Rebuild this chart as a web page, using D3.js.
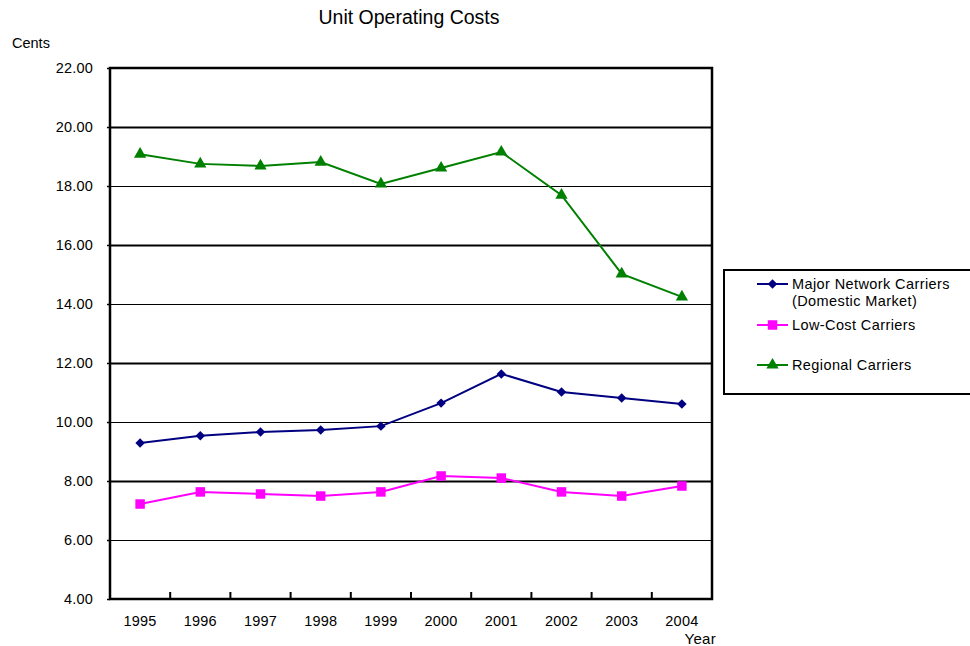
<!DOCTYPE html>
<html>
<head>
<meta charset="utf-8">
<script src="https://cdn.jsdelivr.net/npm/d3@7"></script>
<style>
  html, body { margin: 0; padding: 0; background: #fff; }
  svg { display: block; font-family: "Liberation Sans", Arial, sans-serif; }
</style>
</head>
<body>
<svg id="chart" width="970" height="646"></svg>
<script>
// Unit operating costs (cents) by carrier group, 1995-2004
const years = ["1995","1996","1997","1998","1999","2000","2001","2002","2003","2004"];
const majorNetwork = [9.29, 9.53, 9.66, 9.73, 9.86, 10.64, 11.63, 11.02, 10.81, 10.61];
const lowCost      = [7.22, 7.63, 7.56, 7.49, 7.63, 8.17, 8.10, 7.63, 7.49, 7.83];
const regional     = [19.08, 18.75, 18.68, 18.81, 18.07, 18.61, 19.15, 17.69, 15.02, 14.24];
const yTicks = [4, 6, 8, 10, 12, 14, 16, 18, 20, 22];
const seriesNames = ["Major Network Carriers", "Low-Cost Carriers", "Regional Carriers"];

const series = [
  { name: seriesNames[0], values: majorNetwork, color: "#000080", marker: "diamond" },
  { name: seriesNames[1], values: lowCost,      color: "#FF00FF", marker: "square" },
  { name: seriesNames[2], values: regional,     color: "#008000", marker: "triangle" }
];

const FONT = "'Liberation Sans', Arial, sans-serif";
const svg = d3.select("#chart");
const plot = { left: 110, top: 68, right: 712, bottom: 599 };

const x = d3.scaleBand().domain(years).range([plot.left, plot.right]).padding(0);
const y = d3.scaleLinear().domain([4, 22]).range([plot.bottom, plot.top]);

// horizontal gridlines
svg.append("g").selectAll("line")
  .data(yTicks.filter(v => v > 4 && v < 22))
  .join("line")
  .attr("x1", plot.left).attr("x2", plot.right)
  .attr("y1", d => Math.round(y(d)) + 0.5).attr("y2", d => Math.round(y(d)) + 0.5)
  .attr("stroke", "#000")
  .attr("stroke-width", d => (d % 4 === 0 ? 2 : 1.2));

// y axis labels and small outer ticks
const yAxis = d3.axisLeft(y).tickValues(yTicks).tickFormat(d3.format(".2f")).tickSize(3).tickPadding(14);
const gy = svg.append("g").attr("transform", `translate(${plot.left},0)`).call(yAxis);
gy.select(".domain").remove();
gy.selectAll("line").attr("stroke", "#000").attr("stroke-width", 1.5);
gy.selectAll("text")
  .attr("font-size", 14.5).attr("fill", "#000").attr("font-family", FONT)
  .attr("letter-spacing", 0.2);

// x axis: inward tick marks at category boundaries
const boundaries = years.slice(1).map(d => x(d));
svg.append("g").selectAll("line")
  .data(boundaries)
  .join("line")
  .attr("x1", d => d).attr("x2", d => d)
  .attr("y1", plot.bottom).attr("y2", plot.bottom - 7)
  .attr("stroke", "#000").attr("stroke-width", 2);

svg.append("g").selectAll("text")
  .data(years)
  .join("text")
  .attr("x", d => x(d) + x.bandwidth() / 2)
  .attr("y", 626)
  .attr("text-anchor", "middle")
  .attr("font-size", 14.5)
  .attr("letter-spacing", 0.2)
  .text(d => d);

// plot frame
svg.append("rect")
  .attr("x", plot.left).attr("y", plot.top)
  .attr("width", plot.right - plot.left).attr("height", plot.bottom - plot.top)
  .attr("fill", "none").attr("stroke", "#000").attr("stroke-width", 2.5);

// marker shapes (diamond = square turned 45 degrees)
const symbolFor = {
  diamond: d3.symbol().type(d3.symbolSquare).size(45),
  square: d3.symbol().type(d3.symbolSquare).size(90),
  triangle: d3.symbol().type(d3.symbolTriangle).size(65)
};
const markerRotation = { diamond: 45, square: 0, triangle: 0 };

const cx = i => x(years[i]) + x.bandwidth() / 2;
const line = d3.line().x((d, i) => cx(i)).y(d => y(d));

series.forEach(s => {
  const g = svg.append("g");
  g.append("path")
    .attr("d", line(s.values))
    .attr("fill", "none")
    .attr("stroke", s.color)
    .attr("stroke-width", 2);
  g.selectAll("path.m")
    .data(s.values)
    .join("path")
    .attr("class", "m")
    .attr("d", symbolFor[s.marker])
    .attr("transform", (d, i) => `translate(${cx(i)},${y(d)}) rotate(${markerRotation[s.marker]})`)
    .attr("fill", s.color);
});

// titles
svg.append("text").attr("x", 409).attr("y", 24).attr("text-anchor", "middle")
  .attr("font-size", 19.5).text("Unit Operating Costs");
svg.append("text").attr("x", 12).attr("y", 48).attr("font-size", 14.5).text("Cents");
svg.append("text").attr("x", 716).attr("y", 644).attr("text-anchor", "end")
  .attr("font-size", 15).attr("letter-spacing", 0.3).text("Year");

// legend
const legend = svg.append("g");
legend.append("rect")
  .attr("x", 724).attr("y", 270).attr("width", 250).attr("height", 124)
  .attr("fill", "#fff").attr("stroke", "#000").attr("stroke-width", 2);

const legendRows = [
  { s: series[0], y: 284, lines: [seriesNames[0], "(Domestic Market)"] },
  { s: series[1], y: 325, lines: [seriesNames[1]] },
  { s: series[2], y: 365, lines: [seriesNames[2]] }
];
legendRows.forEach(r => {
  legend.append("line")
    .attr("x1", 757).attr("x2", 788).attr("y1", r.y).attr("y2", r.y)
    .attr("stroke", r.s.color).attr("stroke-width", 2);
  legend.append("path")
    .attr("d", symbolFor[r.s.marker])
    .attr("transform", `translate(772.5,${r.y}) rotate(${markerRotation[r.s.marker]})`)
    .attr("fill", r.s.color);
  r.lines.forEach((t, k) => {
    legend.append("text")
      .attr("x", 792).attr("y", r.y + 5 + k * 17)
      .attr("font-size", 14.5)
      .attr("letter-spacing", 0.4)
      .text(t);
  });
});
</script>
</body>
</html>
